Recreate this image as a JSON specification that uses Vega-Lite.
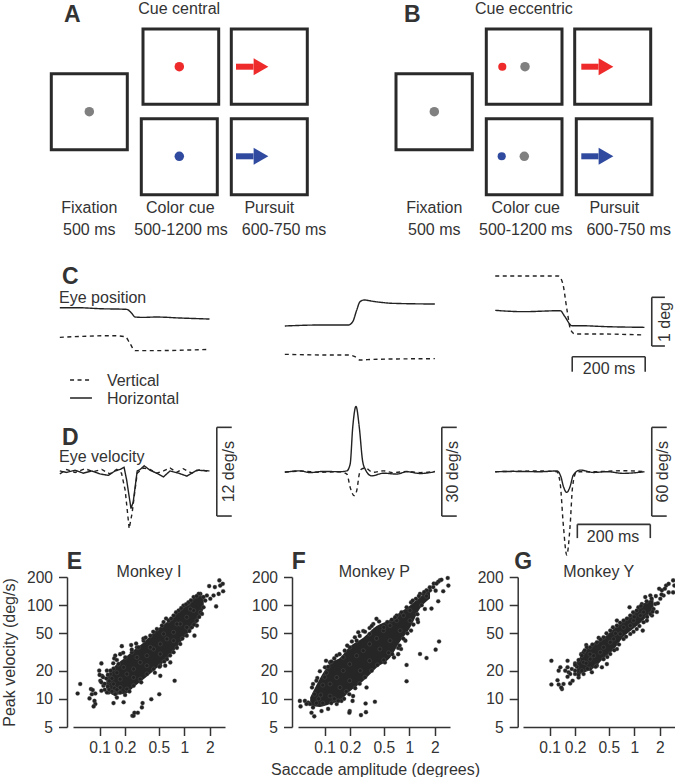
{
"$schema":"https://vega.github.io/schema/vega-lite/v6.json",
"padding":0,"background":"white","bounds":"flush","spacing":0,"columns":3,
"config":{"view":{"stroke":null},"text":{"font":"Liberation Sans","fontSize":16,"color":"#333"},
"axis":{"grid":false,"labelFont":"Liberation Sans","labelFontSize":15.6,"labelColor":"#333","titleFont":"Liberation Sans","titleFontSize":16,"titleFontWeight":"normal","titleColor":"#333","domainColor":"#333","tickColor":"#333","domainWidth":1.5,"tickWidth":1.5,"tickSize":8.5,"labelOverlap":false,"labelFlush":false,"labelBound":false,"titleBaseline":"alphabetic"}},
"datasets":{
"boxes":[{"x0":51.3,"x1":127.3,"y0":73.7,"y1":149.7},{"x0":143,"x1":218.7,"y0":29,"y1":104.3},{"x0":231.3,"x1":307.3,"y0":29,"y1":104.3},{"x0":141.3,"x1":217.3,"y0":118.7,"y1":194.7},{"x0":231.3,"x1":307.3,"y0":118.7,"y1":194.7},{"x0":396,"x1":472.3,"y0":73.7,"y1":149.7},{"x0":486.3,"x1":562,"y0":29,"y1":104.3},{"x0":574.7,"x1":650.7,"y0":29,"y1":104.3},{"x0":486.3,"x1":562,"y0":118.7,"y1":194.7},{"x0":576.3,"x1":652,"y0":118.7,"y1":194.7}],
"dots":[{"c":"gray","x":89.3,"y":111.7},{"c":"red","x":179.3,"y":66.7},{"c":"blue","x":179.3,"y":156.3},{"c":"gray","x":434.3,"y":111.7},{"c":"gray","x":525,"y":66.7},{"c":"gray","x":524.3,"y":156.3}],
"smalldots":[{"c":"red","x":502.3,"y":66.7},{"c":"blue","x":501.7,"y":156.3}],
"arrows":[{"c":"red","x0":236,"x1":253.5,"h":261,"y":66.7},{"c":"blue","x0":236,"x1":253.5,"h":261,"y":156.3},{"c":"red","x0":581.3,"x1":598.5,"h":606,"y":66.7},{"c":"blue","x0":581.3,"x1":598.5,"h":606,"y":156.3}],
"labelsC":[{"s":"Fixation","x":89.3,"y":213.3},{"s":"500 ms","x":89.3,"y":235},{"s":"Color cue","x":180.3,"y":213.3},{"s":"500-1200 ms","x":181,"y":235},{"s":"Pursuit","x":269.3,"y":213.3},{"s":"600-750 ms","x":284,"y":235},{"s":"Fixation","x":434.3,"y":213.3},{"s":"500 ms","x":434.3,"y":235},{"s":"Color cue","x":525.7,"y":213.3},{"s":"500-1200 ms","x":525.7,"y":235},{"s":"Pursuit","x":614.3,"y":213.3},{"s":"600-750 ms","x":628.7,"y":235}],
"c1":[{"c":"Horizontal","t":-195,"d":1.896},{"c":"Horizontal","t":-149,"d":1.896},{"c":"Horizontal","t":-85,"d":1.875},{"c":"Horizontal","t":-12,"d":1.862},{"c":"Horizontal","t":2,"d":1.78},{"c":"Horizontal","t":11,"d":1.704},{"c":"Horizontal","t":34,"d":1.697},{"c":"Horizontal","t":70,"d":1.704},{"c":"Horizontal","t":134,"d":1.684},{"c":"Horizontal","t":215,"d":1.663},{"c":"Vertical","t":-195,"d":1.287},{"c":"Vertical","t":-48,"d":1.321},{"c":"Vertical","t":-16,"d":1.3},{"c":"Vertical","t":-3,"d":1.164},{"c":"Vertical","t":11,"d":1.013},{"c":"Vertical","t":52,"d":1.013},{"c":"Vertical","t":215,"d":1.04}],
"c2":[{"c":"Horizontal","t":-195,"d":1.52},{"c":"Horizontal","t":-99,"d":1.54},{"c":"Horizontal","t":-21,"d":1.54},{"c":"Horizontal","t":-9,"d":1.608},{"c":"Horizontal","t":2,"d":1.848},{"c":"Horizontal","t":11,"d":2.019},{"c":"Horizontal","t":22,"d":2.053},{"c":"Horizontal","t":47,"d":2.026},{"c":"Horizontal","t":102,"d":1.985},{"c":"Horizontal","t":216,"d":1.971},{"c":"Vertical","t":-195,"d":0.938},{"c":"Vertical","t":-71,"d":0.924},{"c":"Vertical","t":-21,"d":0.924},{"c":"Vertical","t":-3,"d":0.89},{"c":"Vertical","t":11,"d":0.821},{"c":"Vertical","t":47,"d":0.835},{"c":"Vertical","t":216,"d":0.849}],
"c3":[{"c":"Horizontal","t":-196,"d":1.841},{"c":"Horizontal","t":-119,"d":1.814},{"c":"Horizontal","t":-18,"d":1.834},{"c":"Horizontal","t":-5,"d":1.711},{"c":"Horizontal","t":14,"d":1.526},{"c":"Horizontal","t":37,"d":1.526},{"c":"Horizontal","t":110,"d":1.506},{"c":"Horizontal","t":213,"d":1.492},{"c":"Vertical","t":-196,"d":2.546},{"c":"Vertical","t":-23,"d":2.546},{"c":"Vertical","t":-11,"d":2.396},{"c":"Vertical","t":0,"d":1.882},{"c":"Vertical","t":11,"d":1.437},{"c":"Vertical","t":23,"d":1.355},{"c":"Vertical","t":91,"d":1.355},{"c":"Vertical","t":210,"d":1.335}],
"d1":[{"c":"Horizontal","t":-195,"d":0.1},{"c":"Horizontal","t":-176,"d":-0.1},{"c":"Horizontal","t":-153,"d":0.2},{"c":"Horizontal","t":-131,"d":-0.2},{"c":"Horizontal","t":-108,"d":0.1},{"c":"Horizontal","t":-85,"d":-0.3},{"c":"Horizontal","t":-62,"d":-0.5},{"c":"Horizontal","t":-44,"d":0.1},{"c":"Horizontal","t":-30,"d":0.3},{"c":"Horizontal","t":-19,"d":0.6},{"c":"Horizontal","t":-12,"d":-1.1},{"c":"Horizontal","t":0,"d":-5},{"c":"Horizontal","t":6,"d":-4.1},{"c":"Horizontal","t":17,"d":0.1},{"c":"Horizontal","t":25,"d":0.3},{"c":"Horizontal","t":36,"d":0.8},{"c":"Horizontal","t":52,"d":0.2},{"c":"Horizontal","t":70,"d":-0.2},{"c":"Horizontal","t":89,"d":-0.7},{"c":"Horizontal","t":107,"d":0.1},{"c":"Horizontal","t":130,"d":-0.2},{"c":"Horizontal","t":153,"d":-0.6},{"c":"Horizontal","t":180,"d":0.2},{"c":"Horizontal","t":215,"d":0.1},
{"c":"Vertical","t":-195,"d":-0.3},{"c":"Vertical","t":-176,"d":0.3},{"c":"Vertical","t":-153,"d":-0.1},{"c":"Vertical","t":-126,"d":0.4},{"c":"Vertical","t":-103,"d":0},{"c":"Vertical","t":-80,"d":0.3},{"c":"Vertical","t":-58,"d":-0.3},{"c":"Vertical","t":-39,"d":0.3},{"c":"Vertical","t":-26,"d":-0.2},{"c":"Vertical","t":-16,"d":-2.5},{"c":"Vertical","t":-5,"d":-7.7},{"c":"Vertical","t":3,"d":-5.6},{"c":"Vertical","t":11,"d":-2.5},{"c":"Vertical","t":17,"d":-0.2},{"c":"Vertical","t":34,"d":0.5},{"c":"Vertical","t":52,"d":0.3},{"c":"Vertical","t":70,"d":-0.2},{"c":"Vertical","t":89,"d":0.1},{"c":"Vertical","t":107,"d":0.5},{"c":"Vertical","t":125,"d":-0.1},{"c":"Vertical","t":143,"d":0.4},{"c":"Vertical","t":166,"d":-0.2},{"c":"Vertical","t":189,"d":0.3},{"c":"Vertical","t":215,"d":0}],
"d2":[{"c":"Horizontal","t":-195,"d":-0.2},{"c":"Horizontal","t":-153,"d":0.3},{"c":"Horizontal","t":-126,"d":-0.3},{"c":"Horizontal","t":-89,"d":0.1},{"c":"Horizontal","t":-44,"d":0},{"c":"Horizontal","t":-25,"d":0.3},{"c":"Horizontal","t":-16,"d":2.6},{"c":"Horizontal","t":-9,"d":15},{"c":"Horizontal","t":0,"d":22.1},{"c":"Horizontal","t":9,"d":15},{"c":"Horizontal","t":18,"d":3.7},{"c":"Horizontal","t":25,"d":0.9},{"c":"Horizontal","t":43,"d":-1.4},{"c":"Horizontal","t":75,"d":-0.5},{"c":"Horizontal","t":112,"d":-0.8},{"c":"Horizontal","t":139,"d":0},{"c":"Horizontal","t":175,"d":-0.6},{"c":"Horizontal","t":216,"d":0},
{"c":"Vertical","t":-195,"d":-0.1},{"c":"Vertical","t":-150,"d":0.2},{"c":"Vertical","t":-100,"d":-0.2},{"c":"Vertical","t":-44,"d":0},{"c":"Vertical","t":-25,"d":-0.8},{"c":"Vertical","t":-16,"d":-5.3},{"c":"Vertical","t":-5,"d":-8.1},{"c":"Vertical","t":2,"d":-6.4},{"c":"Vertical","t":9,"d":-0.8},{"c":"Vertical","t":15,"d":0.9},{"c":"Vertical","t":25,"d":1.2},{"c":"Vertical","t":47,"d":-0.2},{"c":"Vertical","t":75,"d":0.3},{"c":"Vertical","t":102,"d":-0.3},{"c":"Vertical","t":139,"d":0.1},{"c":"Vertical","t":175,"d":-0.3},{"c":"Vertical","t":216,"d":0.1}],
"d3":[{"c":"Horizontal","t":-196,"d":0},{"c":"Horizontal","t":-146,"d":0.2},{"c":"Horizontal","t":-73,"d":0},{"c":"Horizontal","t":-27,"d":0.5},{"c":"Horizontal","t":-16,"d":-3.4},{"c":"Horizontal","t":-9,"d":-10.1},{"c":"Horizontal","t":0,"d":-14},{"c":"Horizontal","t":9,"d":-10.1},{"c":"Horizontal","t":18,"d":-2.3},{"c":"Horizontal","t":37,"d":1.1},{"c":"Horizontal","t":73,"d":-0.5},{"c":"Horizontal","t":110,"d":0},{"c":"Horizontal","t":155,"d":-1.1},{"c":"Horizontal","t":213,"d":0},
{"c":"Vertical","t":-196,"d":0},{"c":"Vertical","t":-73,"d":0.5},{"c":"Vertical","t":-27,"d":0},{"c":"Vertical","t":-18,"d":-7.9},{"c":"Vertical","t":-9,"d":-37.2},{"c":"Vertical","t":0,"d":-56.4},{"c":"Vertical","t":9,"d":-37.2},{"c":"Vertical","t":16,"d":-10.1},{"c":"Vertical","t":27,"d":0},{"c":"Vertical","t":73,"d":0},{"c":"Vertical","t":155,"d":0.7},{"c":"Vertical","t":213,"d":0}],
"legend":[{"c":"Vertical","t":-167,"t2":-107,"d":0.41,"d2":0.41},{"c":"Horizontal","t":-167,"t2":-107,"d":0.04,"d2":0.04}],
"barC3":[{"t":233,"t2":233,"d":2.109,"d2":1.109},{"t":233,"t2":269,"d":2.109,"d2":2.109},{"t":233,"t2":269,"d":1.109,"d2":1.109},{"t":15,"t2":215,"d":0.889,"d2":0.889},{"t":15,"t2":15,"d":0.889,"d2":0.581},{"t":215,"t2":215,"d":0.889,"d2":0.581}],
"barD1":[{"t":235,"t2":235,"d":6,"d2":-6},{"t":235,"t2":276,"d":6,"d2":6},{"t":235,"t2":276,"d":-6,"d2":-6}],
"barD2":[{"t":235,"t2":235,"d":15,"d2":-15},{"t":235,"t2":276,"d":15,"d2":15},{"t":235,"t2":276,"d":-15,"d2":-15}],
"barD3":[{"t":233,"t2":233,"d":30,"d2":-30},{"t":233,"t2":274,"d":30,"d2":30},{"t":233,"t2":274,"d":-30,"d2":-30},{"t":29,"t2":229,"d":-35.6,"d2":-35.6},{"t":29,"t2":29,"d":-35.6,"d2":-44.9},{"t":229,"t2":229,"d":-35.6,"d2":-44.9}],
"envE":[{"a":0.12,"lo":13,"hi":16},{"a":0.146,"lo":11,"hi":21.5},{"a":0.201,"lo":11.3,"hi":27.7},{"a":0.252,"lo":13.3,"hi":33},{"a":0.331,"lo":16.2,"hi":40},{"a":0.475,"lo":21.3,"hi":55},{"a":0.624,"lo":26.5,"hi":66},{"a":0.819,"lo":35.5,"hi":86},{"a":1.07,"lo":48.5,"hi":103},{"a":1.41,"lo":65,"hi":124},{"a":1.7,"lo":92,"hi":128}],
"envF":[{"a":0.0675,"lo":8.5,"hi":10.3},{"a":0.088,"lo":8.2,"hi":16.5},{"a":0.116,"lo":8.8,"hi":24},{"a":0.152,"lo":9.6,"hi":27.5},{"a":0.198,"lo":12,"hi":36},{"a":0.286,"lo":15.5,"hi":45},{"a":0.411,"lo":21.5,"hi":60},{"a":0.593,"lo":27.5,"hi":70},{"a":0.78,"lo":41,"hi":84},{"a":1.02,"lo":57,"hi":99},{"a":1.34,"lo":92,"hi":122},{"a":1.76,"lo":118,"hi":150}],
"envG":[{"a":0.21,"lo":17.8,"hi":25},{"a":0.252,"lo":19,"hi":31.5},{"a":0.331,"lo":21.2,"hi":39.5},{"a":0.434,"lo":27,"hi":45},{"a":0.57,"lo":33.5,"hi":56},{"a":0.748,"lo":46,"hi":69},{"a":0.982,"lo":56.5,"hi":82},{"a":1.29,"lo":69.5,"hi":104},{"a":1.69,"lo":92,"hi":118}],
"ptsE":[{"a":0.055,"v":11.4},{"a":0.059,"v":14.4},{"a":0.076,"v":10.1},{"a":0.079,"v":12.7},{"a":0.083,"v":12.4},{"a":0.081,"v":11.2},{"a":0.089,"v":11.4},{"a":0.087,"v":9.5},{"a":0.089,"v":8.8},{"a":0.085,"v":8.3},{"a":0.099,"v":20},{"a":0.105,"v":23.9},{"a":0.122,"v":20},{"a":0.107,"v":17.6},{"a":0.102,"v":15.6},{"a":0.111,"v":13.8},{"a":0.105,"v":12.2},{"a":0.128,"v":11.7},{"a":0.153,"v":28.9},{"a":0.149,"v":27},{"a":0.183,"v":36.5},{"a":0.236,"v":37.5},{"a":0.276,"v":35.5},{"a":0.146,"v":9},{"a":0.192,"v":9.2},{"a":0.16,"v":10.3},{"a":0.244,"v":6.6},{"a":0.252,"v":6.6},{"a":0.258,"v":7.1},{"a":0.283,"v":7.1},{"a":0.316,"v":8.1},{"a":0.322,"v":9},{"a":0.408,"v":9.9},{"a":0.507,"v":11.2},{"a":0.77,"v":15.6},{"a":0.521,"v":17.6},{"a":0.596,"v":22.6},{"a":0.684,"v":24.5},{"a":1.32,"v":47.3},{"a":1.41,"v":60.5},{"a":2.38,"v":97},{"a":0.61,"v":72},{"a":1.12,"v":105},{"a":1.55,"v":132},{"a":1.97,"v":160},{"a":2.3,"v":156},{"a":2.6,"v":184},{"a":2.85,"v":169},{"a":2.88,"v":141},{"a":2.55,"v":132},{"a":2.66,"v":162},{"a":2.22,"v":127},{"a":2.03,"v":117},{"a":1.77,"v":112},{"a":1.69,"v":95},{"a":1.55,"v":84},{"a":1.85,"v":127},{"a":1.69,"v":122},
{"a":0.134,"v":18.4},{"a":0.146,"v":21},{"a":0.167,"v":23.5},{"a":0.201,"v":27.7},{"a":0.241,"v":31.4},{"a":0.289,"v":35.5},{"a":0.331,"v":41.8},{"a":0.397,"v":47.3},{"a":0.475,"v":55.7},{"a":0.545,"v":60.5},{"a":0.654,"v":68.5},{"a":0.748,"v":77.5},{"a":0.858,"v":87.7},{"a":0.98,"v":99},{"a":1.12,"v":107},{"a":1.29,"v":122},{"a":1.48,"v":132},
{"a":0.122,"v":11.7},{"a":0.153,"v":11.2},{"a":0.175,"v":11.7},{"a":0.21,"v":12.7},{"a":0.252,"v":13.8},{"a":0.302,"v":16.2},{"a":0.362,"v":18.4},{"a":0.434,"v":20.8},{"a":0.521,"v":22.6},{"a":0.624,"v":26.5},{"a":0.748,"v":31.4},{"a":0.897,"v":38.5},{"a":1.07,"v":47.3},{"a":1.23,"v":58},{"a":1.41,"v":68.5},{"a":1.62,"v":80.7},
{"a":0.146,"v":14.4},{"a":0.175,"v":16.2},{"a":0.21,"v":18.4},{"a":0.252,"v":20.8},{"a":0.302,"v":24.5},{"a":0.362,"v":28.9},{"a":0.434,"v":34},{"a":0.521,"v":38.5},{"a":0.624,"v":43.6},{"a":0.748,"v":51.4},{"a":0.897,"v":63},{"a":1.07,"v":74.4},{"a":1.29,"v":87.7},{"a":0.192,"v":21.7},{"a":0.276,"v":27.7},{"a":0.397,"v":35.5},{"a":0.57,"v":49.3},{"a":0.819,"v":63},{"a":1.18,"v":91},{"a":0.175,"v":13.2},{"a":0.252,"v":16.9},{"a":0.362,"v":22.6},{"a":0.521,"v":30.1},{"a":0.748,"v":41.8},{"a":1.07,"v":58},
{"a":0.1,"v":18},{"a":0.105,"v":15},{"a":0.11,"v":17},{"a":0.115,"v":14.5},{"a":0.115,"v":12.5},{"a":0.12,"v":16.5},{"a":0.125,"v":13.5},{"a":0.13,"v":15.5},{"a":0.13,"v":12.5},{"a":0.14,"v":12},{"a":0.14,"v":16.5},{"a":0.15,"v":13},{"a":0.16,"v":12.5},{"a":0.16,"v":19},{"a":0.125,"v":18},{"a":0.135,"v":20},{"a":0.145,"v":24},{"a":0.16,"v":26},{"a":0.175,"v":30},{"a":0.19,"v":31},{"a":0.2,"v":11},{"a":0.225,"v":12},{"a":0.24,"v":33.5},{"a":0.27,"v":39},{"a":0.31,"v":15},{"a":0.33,"v":44},{"a":0.35,"v":45},{"a":0.43,"v":52},{"a":0.51,"v":22},{"a":0.57,"v":66},{"a":0.7,"v":72},{"a":0.45,"v":19},{"a":0.58,"v":25},{"a":0.68,"v":29},{"a":0.82,"v":35},{"a":0.95,"v":44},{"a":1.15,"v":53},{"a":1.3,"v":62},{"a":1.5,"v":75},{"a":0.8,"v":84},{"a":0.92,"v":93},{"a":1.05,"v":102},{"a":1.2,"v":113},{"a":1.4,"v":125}],
"ptsF":[{"a":0.052,"v":8.3},{"a":0.051,"v":9.5},{"a":0.0585,"v":9.5},{"a":0.064,"v":9.1},{"a":0.07,"v":7.1},{"a":0.0755,"v":6.5},{"a":0.067,"v":8.8},{"a":0.073,"v":14.4},{"a":0.071,"v":13.2},{"a":0.082,"v":16.7},{"a":0.104,"v":25.5},{"a":0.088,"v":19.7},{"a":0.08,"v":15.6},{"a":0.061,"v":8.8},{"a":0.076,"v":11.2},{"a":0.073,"v":8.1},{"a":0.092,"v":7.4},{"a":0.11,"v":7.8},{"a":0.139,"v":8.8},{"a":0.158,"v":9.5},{"a":0.196,"v":11.2},{"a":0.214,"v":9.5},{"a":0.198,"v":7.4},{"a":0.196,"v":7.1},{"a":0.269,"v":6.7},{"a":0.308,"v":7.2},{"a":0.305,"v":8.9},{"a":0.393,"v":9.3},{"a":0.313,"v":13.2},{"a":0.217,"v":10.7},{"a":0.93,"v":15.4},{"a":0.93,"v":23},{"a":1.34,"v":30.1},{"a":1.6,"v":27.3},{"a":2.05,"v":33.5},{"a":2.25,"v":41},{"a":0.74,"v":30},{"a":0.9,"v":41.8},{"a":0.66,"v":27.7},{"a":0.63,"v":30},{"a":0.74,"v":34.9},{"a":0.515,"v":24.5},{"a":0.8,"v":34},{"a":1.05,"v":53.5},{"a":1.27,"v":66},{"a":1.25,"v":70.5},{"a":1.53,"v":91},{"a":1.83,"v":92},{"a":2.2,"v":110},{"a":2.05,"v":143},{"a":2.52,"v":141},{"a":2.9,"v":162},{"a":2.85,"v":195},{"a":2.3,"v":184},{"a":2.4,"v":187},{"a":2.2,"v":178},{"a":1.92,"v":156},{"a":1.76,"v":144},{"a":1.6,"v":144},{"a":1.47,"v":132},{"a":1.34,"v":132},{"a":1.2,"v":117},{"a":1.05,"v":107},{"a":0.93,"v":95},{"a":0.81,"v":84},{"a":0.71,"v":77.5},{"a":0.41,"v":71.5},{"a":0.44,"v":67},{"a":0.376,"v":63},{"a":0.34,"v":57},{"a":0.286,"v":53},{"a":0.25,"v":51.4},{"a":0.228,"v":45.4},{"a":0.198,"v":35.5},{"a":0.173,"v":32.7},{"a":0.139,"v":29},{"a":0.116,"v":24.5},{"a":0.101,"v":21.7},
{"a":0.116,"v":14.4},{"a":0.139,"v":16.9},{"a":0.166,"v":20},{"a":0.198,"v":23.5},{"a":0.239,"v":28.9},{"a":0.286,"v":32.7},{"a":0.34,"v":38.5},{"a":0.411,"v":44.2},{"a":0.495,"v":53.5},{"a":0.593,"v":60.5},{"a":0.71,"v":68.5},{"a":0.855,"v":77.5},{"a":1.02,"v":87.7},{"a":0.116,"v":10.7},{"a":0.152,"v":13.2},{"a":0.198,"v":15.6},{"a":0.264,"v":20},{"a":0.34,"v":25.5},{"a":0.45,"v":34},{"a":0.593,"v":41.8},{"a":0.78,"v":53.5},{"a":1.02,"v":68.5},{"a":0.166,"v":27.7},{"a":0.239,"v":41.8},{"a":0.34,"v":49.3},
{"a":0.09,"v":11},{"a":0.095,"v":14},{"a":0.1,"v":17},{"a":0.085,"v":10},{"a":0.08,"v":9},{"a":0.095,"v":9},{"a":0.105,"v":19},{"a":0.11,"v":22},{"a":0.12,"v":25},{"a":0.13,"v":27},{"a":0.12,"v":9},{"a":0.13,"v":10},{"a":0.145,"v":9.5},{"a":0.17,"v":10},{"a":0.18,"v":12},{"a":0.15,"v":30},{"a":0.185,"v":37},{"a":0.21,"v":41},{"a":0.26,"v":47},{"a":0.3,"v":52},{"a":0.36,"v":60},{"a":0.23,"v":13},{"a":0.26,"v":14.5},{"a":0.3,"v":17},{"a":0.36,"v":20},{"a":0.42,"v":23},{"a":0.5,"v":26},{"a":0.57,"v":31},{"a":0.5,"v":58},{"a":0.55,"v":66},{"a":0.62,"v":70},{"a":0.68,"v":74},{"a":0.77,"v":37},{"a":0.85,"v":44},{"a":0.95,"v":50},{"a":1.12,"v":62},{"a":1.25,"v":80},{"a":1.4,"v":100},{"a":1.6,"v":125},{"a":1.1,"v":112},{"a":1.3,"v":125},{"a":1.5,"v":138},{"a":1.75,"v":155},{"a":1.95,"v":170},{"a":2.1,"v":170}],
"ptsG":[{"a":0.105,"v":25.5},{"a":0.105,"v":14.2},{"a":0.124,"v":15.8},{"a":0.128,"v":20},{"a":0.134,"v":21.7},{"a":0.128,"v":14.2},{"a":0.14,"v":12.7},{"a":0.137,"v":13.2},{"a":0.146,"v":14.4},{"a":0.163,"v":25.5},{"a":0.163,"v":21.7},{"a":0.153,"v":20},{"a":0.168,"v":19.2},{"a":0.175,"v":18.4},{"a":0.175,"v":14.6},{"a":0.187,"v":15.6},{"a":0.2,"v":24},{"a":0.183,"v":20.8},{"a":0.163,"v":17.2},{"a":0.236,"v":30},{"a":0.271,"v":37.5},{"a":0.276,"v":35.5},{"a":0.22,"v":16.9},{"a":0.2,"v":18.4},{"a":0.316,"v":19.2},{"a":0.415,"v":21.7},{"a":0.475,"v":23.5},{"a":0.38,"v":44.8},{"a":0.624,"v":68.5},{"a":0.88,"v":95},{"a":1.26,"v":53.5},{"a":1.41,"v":68.5},{"a":1.85,"v":84.5},{"a":1.62,"v":77.5},{"a":1.35,"v":122},{"a":1.55,"v":127},{"a":1.97,"v":150},{"a":2.12,"v":144},{"a":2.38,"v":162},{"a":2.55,"v":169},{"a":2.88,"v":184},{"a":2.98,"v":162},{"a":2.88,"v":137},{"a":2.55,"v":137},{"a":2.22,"v":127},{"a":2.03,"v":117},{"a":1.77,"v":103},
{"a":0.252,"v":31.4},{"a":0.302,"v":35.5},{"a":0.362,"v":40.2},{"a":0.434,"v":45.4},{"a":0.521,"v":53.5},{"a":0.624,"v":60.5},{"a":0.748,"v":68.5},{"a":0.897,"v":77.5},{"a":1.07,"v":87.7},{"a":1.23,"v":103},{"a":0.252,"v":18.4},{"a":0.302,"v":20.8},{"a":0.362,"v":22.6},{"a":0.434,"v":26.5},{"a":0.521,"v":30.1},{"a":0.624,"v":34},{"a":0.748,"v":43.6},{"a":0.897,"v":49.3},{"a":1.07,"v":55.7},{"a":1.29,"v":65.8},{"a":1.55,"v":80.7},{"a":1.69,"v":91},
{"a":0.252,"v":24.5},{"a":0.331,"v":28.9},{"a":0.434,"v":35.5},{"a":0.57,"v":43.6},{"a":0.748,"v":58},{"a":0.982,"v":68.5},{"a":1.29,"v":84.5},{"a":0.302,"v":26.5},{"a":0.397,"v":31.4},{"a":0.521,"v":40.2},{"a":0.684,"v":49.3},{"a":0.897,"v":60.5},{"a":1.18,"v":77.5},
{"a":0.2,"v":20},{"a":0.21,"v":22},{"a":0.22,"v":26},{"a":0.2,"v":23},{"a":0.22,"v":18},{"a":0.24,"v":29},{"a":0.24,"v":20},{"a":0.26,"v":33},{"a":0.28,"v":21},{"a":0.32,"v":38},{"a":0.27,"v":24},{"a":0.35,"v":22},{"a":0.4,"v":43},{"a":0.47,"v":50},{"a":0.48,"v":28},{"a":0.56,"v":58},{"a":0.58,"v":33},{"a":0.68,"v":65},{"a":0.66,"v":38},{"a":0.82,"v":72},{"a":0.8,"v":46},{"a":0.97,"v":84},{"a":0.98,"v":52},{"a":1.12,"v":95},{"a":1.15,"v":60},{"a":1.4,"v":110},{"a":1.42,"v":75},{"a":1.6,"v":118},{"a":1.65,"v":85},{"a":1.8,"v":125},{"a":1.9,"v":105},{"a":2.1,"v":130},{"a":2.3,"v":150},{"a":1.2,"v":98},{"a":0.3,"v":30},{"a":0.6,"v":50},{"a":1,"v":75}]
},
"concat":[
{"width":225,"height":262,
"encoding":{"x":{"field":"x","type":"quantitative","scale":{"domain":[0,225],"nice":false},"axis":null},"y":{"field":"y","type":"quantitative","scale":{"domain":[262,0],"nice":false,"zero":false},"axis":null}},
"layer":[
{"data":{"name":"boxes"},"mark":{"type":"rect","fill":null,"stroke":"#2a2a2a","strokeWidth":3},"encoding":{"x":{"field":"x0","type":"quantitative","scale":{"domain":[0,225],"nice":false},"axis":null},"x2":{"field":"x1"},"y":{"field":"y0","type":"quantitative","scale":{"domain":[262,0],"nice":false,"zero":false},"axis":null},"y2":{"field":"y1"}}},
{"data":{"name":"dots"},"mark":{"type":"point","filled":true,"opacity":1,"size":90},"encoding":{"color":{"field":"c","type":"nominal","scale":{"domain":["gray","red","blue"],"range":["#808080","#ee2a2a","#2f4a9f"]},"legend":null}}},
{"data":{"name":"smalldots"},"mark":{"type":"point","filled":true,"opacity":1,"size":66},"encoding":{"color":{"field":"c","type":"nominal","scale":{"domain":["gray","red","blue"],"range":["#808080","#ee2a2a","#2f4a9f"]},"legend":null}}},
{"data":{"name":"arrows"},"mark":{"type":"rule","strokeWidth":6,"strokeCap":"butt"},"encoding":{"x":{"field":"x0","type":"quantitative","scale":{"domain":[0,225],"nice":false},"axis":null},"x2":{"field":"x1"},"color":{"field":"c","type":"nominal","scale":{"domain":["gray","red","blue"],"range":["#808080","#ee2a2a","#2f4a9f"]},"legend":null}}},
{"data":{"name":"arrows"},"mark":{"type":"point","filled":true,"opacity":1,"shape":"triangle-right","size":289},"encoding":{"x":{"field":"h","type":"quantitative","scale":{"domain":[0,225],"nice":false},"axis":null},"color":{"field":"c","type":"nominal","scale":{"domain":["gray","red","blue"],"range":["#808080","#ee2a2a","#2f4a9f"]},"legend":null}}},
{"data":{"name":"labelsC"},"mark":{"type":"text","align":"center","baseline":"alphabetic"},"encoding":{"text":{"field":"s"}}},
{"data":{"values":[{"s":"Cue central","x":138.3,"y":14},{"s":"Cue eccentric","x":475,"y":14}]},"mark":{"type":"text","align":"left","baseline":"alphabetic"},"encoding":{"text":{"field":"s"}}},
{"data":{"values":[{"s":"A","x":64,"y":21.7},{"s":"B","x":404,"y":21.7}]},"mark":{"type":"text","align":"left","baseline":"alphabetic","fontWeight":"bold","fontSize":23},"encoding":{"text":{"field":"s"}}}
]},
{"width":225,"height":262,"data":{"values":[]},"mark":"point","encoding":{}},
{"width":225,"height":262,"data":{"values":[]},"mark":"point","encoding":{}},
{"width":225,"height":138,
"encoding":{"x":{"field":"t","type":"quantitative","scale":{"domain":[-358.9,257.5],"nice":false},"axis":null},"y":{"field":"d","type":"quantitative","scale":{"domain":[0,2.834],"nice":false},"axis":null}},
"layer":[
{"data":{"name":"c1"},"mark":{"type":"line","interpolate":"monotone","color":"#222","strokeWidth":1.4},"encoding":{"strokeDash":{"field":"c","type":"nominal","scale":{"domain":["Horizontal","Vertical"],"range":[[1,0],[4,3.5]]},"legend":null}}},
{"data":{"name":"legend"},"mark":{"type":"rule","color":"#222","strokeWidth":1.4},"encoding":{"x2":{"field":"t2"},"y2":{"field":"d2"},"strokeDash":{"field":"c","type":"nominal","scale":{"domain":["Horizontal","Vertical"],"range":[[1,0],[4,3.5]]},"legend":null}}},
{"data":{"values":[{"s":"Eye position","t":-197,"d":1.99},{"s":"Vertical","t":-66,"d":0.287},{"s":"Horizontal","t":-66,"d":-0.082}]},"mark":{"type":"text","align":"left","baseline":"alphabetic"},"encoding":{"text":{"field":"s"}}},
{"data":{"values":[{"s":"C","t":-189,"d":2.382}]},"mark":{"type":"text","align":"left","baseline":"alphabetic","fontWeight":"bold","fontSize":23},"encoding":{"text":{"field":"s"}}}
]},
{"width":225,"height":138,
"encoding":{"x":{"field":"t","type":"quantitative","scale":{"domain":[-358.9,257.5],"nice":false},"axis":null},"y":{"field":"d","type":"quantitative","scale":{"domain":[0,2.834],"nice":false},"axis":null}},
"layer":[
{"data":{"name":"c2"},"mark":{"type":"line","interpolate":"monotone","color":"#222","strokeWidth":1.4},"encoding":{"strokeDash":{"field":"c","type":"nominal","scale":{"domain":["Horizontal","Vertical"],"range":[[1,0],[4,3.5]]},"legend":null}}}
]},
{"width":225,"height":138,
"encoding":{"x":{"field":"t","type":"quantitative","scale":{"domain":[-320,296.7],"nice":false},"axis":null},"y":{"field":"d","type":"quantitative","scale":{"domain":[0,2.834],"nice":false},"axis":null}},
"layer":[
{"data":{"name":"c3"},"mark":{"type":"line","interpolate":"monotone","color":"#222","strokeWidth":1.4},"encoding":{"strokeDash":{"field":"c","type":"nominal","scale":{"domain":["Horizontal","Vertical"],"range":[[1,0],[4,3.5]]},"legend":null}}},
{"data":{"name":"barC3"},"mark":{"type":"rule","color":"#333","strokeWidth":1.6},"encoding":{"x2":{"field":"t2"},"y2":{"field":"d2"}}},
{"data":{"values":[{"s":"200 ms","t":116,"d":0.534}]},"mark":{"type":"text","align":"center","baseline":"alphabetic"},"encoding":{"text":{"field":"s"}}},
{"data":{"values":[{"s":"1 deg","t":283,"d":1.6}]},"mark":{"type":"text","align":"center","baseline":"alphabetic","angle":270},"encoding":{"text":{"field":"s"}}}
]},
{"width":225,"height":177,
"encoding":{"x":{"field":"t","type":"quantitative","scale":{"domain":[-358.9,257.5],"nice":false},"axis":null},"y":{"field":"d","type":"quantitative","scale":{"domain":[-14.25,9.7],"nice":false},"axis":null}},
"layer":[
{"data":{"name":"d1"},"mark":{"type":"line","color":"#222","strokeWidth":1.4},"encoding":{"strokeDash":{"field":"c","type":"nominal","scale":{"domain":["Horizontal","Vertical"],"range":[[1,0],[4,3.5]]},"legend":null}}},
{"data":{"name":"barD1"},"mark":{"type":"rule","color":"#333","strokeWidth":1.6},"encoding":{"x2":{"field":"t2"},"y2":{"field":"d2"}}},
{"data":{"values":[{"s":"Eye velocity","t":-197,"d":1.35}]},"mark":{"type":"text","align":"left","baseline":"alphabetic"},"encoding":{"text":{"field":"s"}}},
{"data":{"values":[{"s":"D","t":-189,"d":3.61}]},"mark":{"type":"text","align":"left","baseline":"alphabetic","fontWeight":"bold","fontSize":23},"encoding":{"text":{"field":"s"}}},
{"data":{"values":[{"s":"12 deg/s","t":283,"d":0}]},"mark":{"type":"text","align":"center","baseline":"alphabetic","angle":270},"encoding":{"text":{"field":"s"}}}
]},
{"width":225,"height":177,
"encoding":{"x":{"field":"t","type":"quantitative","scale":{"domain":[-358.9,257.5],"nice":false},"axis":null},"y":{"field":"d","type":"quantitative","scale":{"domain":[-35.6,24.25],"nice":false},"axis":null}},
"layer":[
{"data":{"name":"d2"},"mark":{"type":"line","interpolate":"monotone","color":"#222","strokeWidth":1.4},"encoding":{"strokeDash":{"field":"c","type":"nominal","scale":{"domain":["Horizontal","Vertical"],"range":[[1,0],[4,3.5]]},"legend":null}}},
{"data":{"name":"barD2"},"mark":{"type":"rule","color":"#333","strokeWidth":1.6},"encoding":{"x2":{"field":"t2"},"y2":{"field":"d2"}}},
{"data":{"values":[{"s":"30 deg/s","t":279,"d":0}]},"mark":{"type":"text","align":"center","baseline":"alphabetic","angle":270},"encoding":{"text":{"field":"s"}}}
]},
{"width":225,"height":177,
"encoding":{"x":{"field":"t","type":"quantitative","scale":{"domain":[-320,296.7],"nice":false},"axis":null},"y":{"field":"d","type":"quantitative","scale":{"domain":[-71.2,48.5],"nice":false},"axis":null}},
"layer":[
{"data":{"name":"d3"},"mark":{"type":"line","interpolate":"monotone","color":"#222","strokeWidth":1.4},"encoding":{"strokeDash":{"field":"c","type":"nominal","scale":{"domain":["Horizontal","Vertical"],"range":[[1,0],[4,3.5]]},"legend":null}}},
{"data":{"name":"barD3"},"mark":{"type":"rule","color":"#333","strokeWidth":1.6},"encoding":{"x2":{"field":"t2"},"y2":{"field":"d2"}}},
{"data":{"values":[{"s":"200 ms","t":127,"d":-47.4}]},"mark":{"type":"text","align":"center","baseline":"alphabetic"},"encoding":{"text":{"field":"s"}}},
{"data":{"values":[{"s":"60 deg/s","t":277.5,"d":0}]},"mark":{"type":"text","align":"center","baseline":"alphabetic","angle":270},"encoding":{"text":{"field":"s"}}}
]},
{"width":225,"height":150,
"encoding":{"x":{"field":"a","type":"quantitative","scale":{"type":"log","domain":[0.0485,3.03],"range":[73,225],"nice":false},"axis":{"values":[0.1,0.2,0.5,1,2],"format":"~g","title":null,"labelPadding":5}},"y":{"field":"v","type":"quantitative","scale":{"type":"log","domain":[5,200],"nice":false},"axis":{"values":[5,10,20,50,100,200],"format":"~g","offset":-67,"labelPadding":6,"title":"Peak velocity (deg/s)","titleX":-53,"titleY":75,"titleAngle":270,"titleAlign":"center"}}},
"layer":[
{"data":{"name":"envE"},"mark":{"type":"area","interpolate":"monotone","fill":"#262626"},"encoding":{"y":{"field":"lo","type":"quantitative"},"y2":{"field":"hi"}}},
{"data":{"name":"ptsE"},"mark":{"type":"point","filled":true,"fill":"#222","stroke":"#666","strokeWidth":0.3,"opacity":1,"size":17}},
{"data":{"values":[{"s":"E","a":0.041,"v":243}]},"mark":{"type":"text","align":"left","baseline":"alphabetic","fontWeight":"bold","fontSize":23},"encoding":{"text":{"field":"s"}}},
{"data":{"values":[{"s":"Monkey I","a":0.384,"v":200}]},"mark":{"type":"text","align":"center","baseline":"alphabetic"},"encoding":{"text":{"field":"s"}}}
]},
{"width":225,"height":150,
"encoding":{"x":{"field":"a","type":"quantitative","scale":{"type":"log","domain":[0.0485,3.03],"range":[73,225],"nice":false},"axis":{"values":[0.1,0.2,0.5,1,2],"format":"~g","title":"Saccade amplitude (degrees)","titleX":150,"titleY":47,"labelPadding":5}},"y":{"field":"v","type":"quantitative","scale":{"type":"log","domain":[5,200],"nice":false},"axis":{"values":[5,10,20,50,100,200],"format":"~g","offset":-67,"labelPadding":6,"title":null}}},
"layer":[
{"data":{"name":"envF"},"mark":{"type":"area","interpolate":"monotone","fill":"#262626"},"encoding":{"y":{"field":"lo","type":"quantitative"},"y2":{"field":"hi"}}},
{"data":{"name":"ptsF"},"mark":{"type":"point","filled":true,"fill":"#222","stroke":"#666","strokeWidth":0.3,"opacity":1,"size":17}},
{"data":{"values":[{"s":"F","a":0.0408,"v":243}]},"mark":{"type":"text","align":"left","baseline":"alphabetic","fontWeight":"bold","fontSize":23},"encoding":{"text":{"field":"s"}}},
{"data":{"values":[{"s":"Monkey P","a":0.387,"v":200}]},"mark":{"type":"text","align":"center","baseline":"alphabetic"},"encoding":{"text":{"field":"s"}}}
]},
{"width":225,"height":150,
"encoding":{"x":{"field":"a","type":"quantitative","scale":{"type":"log","domain":[0.0485,3.03],"range":[73,225],"nice":false},"axis":{"values":[0.1,0.2,0.5,1,2],"format":"~g","title":null,"labelPadding":5}},"y":{"field":"v","type":"quantitative","scale":{"type":"log","domain":[5,200],"nice":false},"axis":{"values":[5,10,20,50,100,200],"format":"~g","offset":-67.7,"labelPadding":6,"title":null}}},
"layer":[
{"data":{"name":"envG"},"mark":{"type":"area","interpolate":"monotone","fill":"#262626"},"encoding":{"y":{"field":"lo","type":"quantitative"},"y2":{"field":"hi"}}},
{"data":{"name":"ptsG"},"mark":{"type":"point","filled":true,"fill":"#222","stroke":"#666","strokeWidth":0.3,"opacity":1,"size":17}},
{"data":{"values":[{"s":"G","a":0.0383,"v":243}]},"mark":{"type":"text","align":"left","baseline":"alphabetic","fontWeight":"bold","fontSize":23},"encoding":{"text":{"field":"s"}}},
{"data":{"values":[{"s":"Monkey Y","a":0.381,"v":200}]},"mark":{"type":"text","align":"center","baseline":"alphabetic"},"encoding":{"text":{"field":"s"}}}
]}
]}
